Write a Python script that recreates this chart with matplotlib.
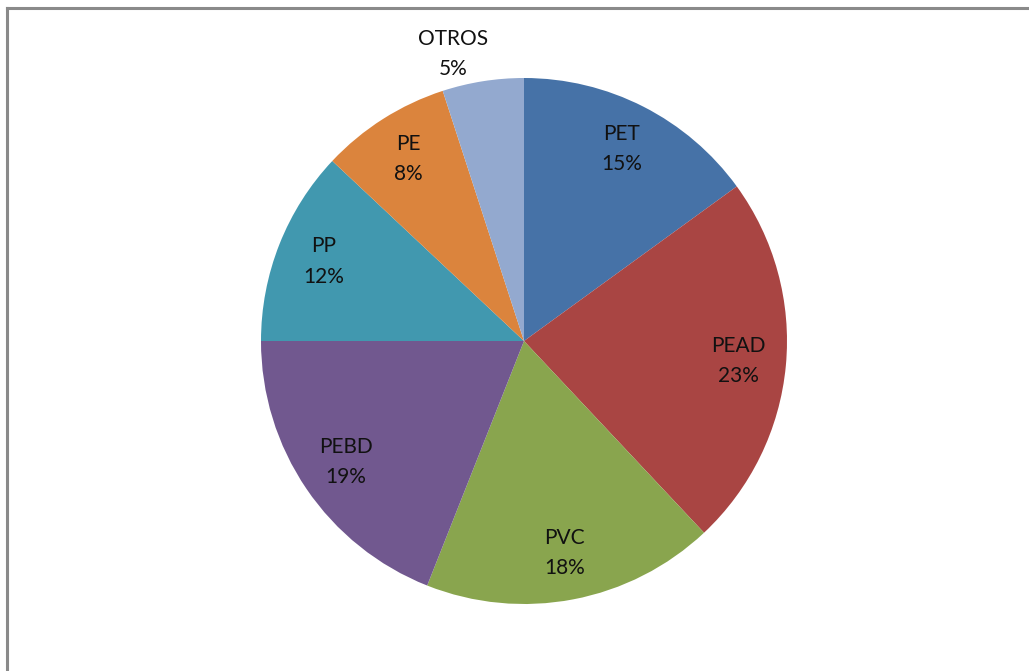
import numpy as np
import matplotlib
matplotlib.use("Agg")
import matplotlib.pyplot as plt
from matplotlib.lines import Line2D

# plastic types and their share of the total
tipos = ["PET", "PEAD", "PVC", "PEBD", "PP", "PE", "OTROS"]
porcentajes = [15, 23, 18, 19, 12, 8, 5]
colores = ["#4672A7", "#A94543", "#89A54E", "#71588F", "#4198AF", "#DB843D", "#93A9CF"]

W, H = 1029, 671
fig = plt.figure(figsize=(W / 100, H / 100), dpi=100)
ax = fig.add_axes([0, 0, 1, 1])

cx, cy, R = 524, H - 341, 263
wedges, _ = ax.pie(porcentajes, colors=colores, startangle=90, counterclock=False,
                   center=(cx, cy), radius=R, frame=True,
                   wedgeprops=dict(linewidth=0))
ax.set_xlim(0, W)
ax.set_ylim(0, H)
ax.set_aspect("equal")
ax.axis("off")

for w, t, p in zip(wedges, tipos, porcentajes):
    ang = np.deg2rad((w.theta1 + w.theta2) / 2)
    d = 0.82 * R
    if p < 6:
        # small slice: label goes outside
        d = 1.105 * R
    x = cx + d * np.cos(ang)
    y = cy + d * np.sin(ang)
    if p < 6:
        x -= 25
    ax.text(x, y, f"{t}\n{p}%", ha="center", va="center", fontsize=15,
            family="Lato", color="#111111", linespacing=1.65)

# chart area frame
gris = "#8a8a8a"
fig.add_artist(Line2D([7 / W, 1], [1 - 8 / H, 1 - 8 / H], color=gris, lw=2.2,
                      transform=fig.transFigure))
fig.add_artist(Line2D([7 / W, 7 / W], [0, 1 - 8 / H], color=gris, lw=2.2,
                      transform=fig.transFigure))

fig.savefig("out.png", dpi=100, facecolor="white")
